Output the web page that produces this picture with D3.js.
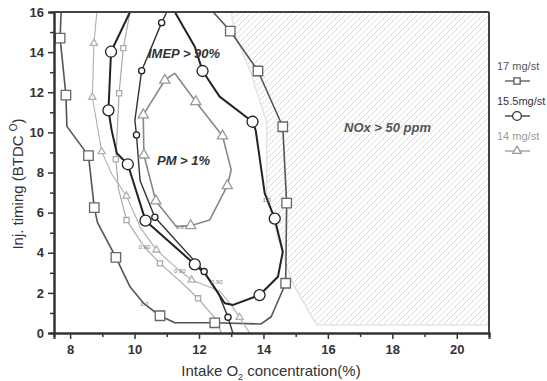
<!DOCTYPE html>
<html>
<head>
<meta charset="utf-8">
<script src="https://cdn.jsdelivr.net/npm/d3@7"></script>
<style>
  body { margin: 0; background: #fff; }
  svg { display: block; font-family: 'Liberation Sans', Arial, sans-serif; }
</style>
</head>
<body>
<svg id="chart" width="547" height="381"></svg>
<script>
// axis ticks
const xTicks = [8, 10, 12, 14, 16, 18, 20];
const yTicks = [0, 2, 4, 6, 8, 10, 12, 14, 16];

// contour lines: [O2 %, timing, marker flag]
const sq17Outer = [[7.72,16],[7.69,14.7,1],[7.87,11.86,1],[7.9,10.3],[8.57,8.84,1],[8.75,6.25,1],[8.85,5.5],
  [9.42,3.77,1],[9.86,2.3],[10.3,1.45],[10.79,0.86,1],[11.25,0.51],[12.49,0.51,1],[13.93,0.45],[14.24,0.81],
  [14.69,2.48,1],[14.72,6.47,1],[14.6,10.28,1],[13.83,13.06,1],[12.97,15.05,1],[12.44,16]];
const sq17Inner = [[9.86,16],[9.65,14.2,1],[9.52,11.95,1],[9.42,8.66,1],[9.5,7.2],[9.75,5.63,1],[10.3,4.3],
  [10.79,3.47,1],[11.4,2.6],[11.97,1.73,1],[12.49,0.75],[12.7,0]];
const tri14Line = [[8.83,16],[8.74,14.44,1],[8.69,11.75,1],[8.98,9.04,1],[9.3,7.9],[9.75,6.83,1],[10.2,5.2],
  [10.68,4.14,1],[11.35,3.17],[11.77,2.64,1],[12.64,2.09],[13.0,1.4],[13.26,0.78,1],[13.57,0]];
const tri14PM = [[11.25,12.95],[11.9,11.53,1],[12.73,9.82,1],[13.0,8.13],[12.88,7.34,1],[12.33,5.63],
  [11.74,5.35,1],[11.3,5.3],[10.66,6.58,1],[10.29,8.87,1],[10.27,10.87,1],[10.94,12.6,1],[11.25,12.95]];
const cir155Imep = [[9.86,16],[9.27,14.02,1],[9.19,11.1,1],[9.29,10.1],[9.45,8.96],[9.79,8.41,1],[10.34,5.6,1],
  [11.87,3.42,1],[12.18,2.98],[12.8,1.48],[13.06,1.4],[13.88,1.89,1],[14.45,2.8],[14.6,4.05],[14.35,5.7,1],
  [14.04,6.96],[13.76,10.1],[13.66,10.53,1],[12.64,11.78],[12.11,13.06,1],[11.87,14.27],[11.25,16]];
const cir155Inner = [[11.0,16],[10.84,15.47,1],[10.22,13.07,1],[10.01,10.6],[10.06,9.87,1],[10.17,7.6],
  [10.63,5.77,1],[12.16,3.06,1],[12.6,2.0],[12.9,0.78,1],[13.05,0]];

// NOx > 50 ppm region boundary
const noxRegion = [[13.0,16],[13.1,15],[13.6,13],[14.1,10.5],[14.1,7],[14.4,5],[14.9,2.5],[15.65,0.4],[21,0.4],[21,16]];

// contour value labels
const contourLabels = [["1.0",10.3,1.45],["1.0",14.1,6.63],["0.90",10.3,4.3],["0.90",11.4,3.1],["0.90",12.55,2.55],["1.0",11.4,5.3]];

const legendItems = [["17 mg/st","square"],["15.5mg/st","circle"],["14 mg/st","triangle"]];

const W = 547, H = 381;
const m = { left: 54, right: 58, top: 12, bottom: 48 };
const svg = d3.select('#chart');

const x = d3.scaleLinear().domain([7.5, 21]).range([m.left, W - m.right]);
const y = d3.scaleLinear().domain([0, 16]).range([H - m.bottom, m.top]);

// hatch pattern
const defs = svg.append('defs');
const pat = defs.append('pattern')
  .attr('id', 'hatch')
  .attr('patternUnits', 'userSpaceOnUse')
  .attr('width', 6).attr('height', 6);
pat.append('path')
  .attr('d', 'M-1,1 l2,-2 M0,6 l6,-6 M5,7 l2,-2')
  .attr('stroke', '#d6d6d6').attr('stroke-width', 0.9);

const line = d3.line().x(d => x(d[0])).y(d => y(d[1]));

svg.append('path')
  .datum(noxRegion)
  .attr('d', d => line(d) + 'Z')
  .attr('fill', 'url(#hatch)')
  .attr('stroke', '#e3e3e3')
  .attr('stroke-width', 1.5);

svg.append('text')
  .attr('x', 344).attr('y', 132)
  .attr('font-size', 13).attr('font-style', 'italic').attr('font-weight', 'bold')
  .attr('fill', '#555')
  .text('NOx > 50 ppm');

// series drawing
const series = [
  { pts: sq17Outer, stroke: '#555', sw: 1.6, sym: d3.symbolSquare, size: 90, mstroke: '#666' },
  { pts: sq17Inner, stroke: '#aaa', sw: 1.2, sym: d3.symbolSquare, size: 26, mstroke: '#aaa' },
  { pts: tri14Line, stroke: '#b0b0b0', sw: 1.1, sym: d3.symbolTriangle, size: 22, mstroke: '#b0b0b0' },
  { pts: tri14PM, stroke: '#888', sw: 1.6, sym: d3.symbolTriangle, size: 45, mstroke: '#999' },
  { pts: cir155Inner, stroke: '#333', sw: 1.4, sym: d3.symbolCircle, size: 30, mstroke: '#222' },
  { pts: cir155Imep, stroke: '#222', sw: 2, sym: d3.symbolCircle, size: 95, mstroke: '#222' }
];

series.forEach(s => {
  svg.append('path')
    .datum(s.pts)
    .attr('d', line)
    .attr('fill', 'none')
    .attr('stroke', s.stroke)
    .attr('stroke-width', s.sw)
    .attr('stroke-linejoin', 'round');
});

// contour labels
svg.selectAll('.clab')
  .data(contourLabels)
  .enter()
  .append('text')
  .attr('class', 'clab')
  .attr('x', d => x(d[1])).attr('y', d => y(d[2]))
  .attr('text-anchor', 'middle').attr('dy', 2)
  .attr('font-size', 6).attr('fill', '#777')
  .text(d => d[0]);

series.forEach(s => {
  svg.append('g')
    .selectAll('path')
    .data(s.pts.filter(p => p[2]))
    .enter()
    .append('path')
    .attr('transform', d => `translate(${x(d[0])},${y(d[1])})`)
    .attr('d', d3.symbol().type(s.sym).size(s.size))
    .attr('fill', '#fff')
    .attr('stroke', s.mstroke)
    .attr('stroke-width', 1.3);
});

// region labels
svg.append('text')
  .attr('x', 148).attr('y', 58)
  .attr('font-size', 13).attr('font-style', 'italic').attr('font-weight', 'bold')
  .attr('fill', '#333')
  .text('IMEP > 90%');
svg.append('text')
  .attr('x', 157).attr('y', 165)
  .attr('font-size', 13).attr('font-style', 'italic').attr('font-weight', 'bold')
  .attr('fill', '#333')
  .text('PM > 1%');

// axes
const xAxis = svg.append('g')
  .attr('transform', `translate(0,${H - m.bottom})`)
  .call(d3.axisBottom(x).tickValues(xTicks).tickSize(6).tickPadding(6).tickFormat(d3.format('d')));
const xMinor = svg.append('g')
  .attr('transform', `translate(0,${H - m.bottom})`)
  .call(d3.axisBottom(x).tickValues(xTicks.map(v => v + 1).filter(v => v < 21)).tickSize(4).tickFormat(''));
const yAxis = svg.append('g')
  .attr('transform', `translate(${m.left},0)`)
  .call(d3.axisLeft(y).tickValues(yTicks).tickSize(6).tickPadding(4).tickFormat(d3.format('d')));
const yMinor = svg.append('g')
  .attr('transform', `translate(${m.left},0)`)
  .call(d3.axisLeft(y).tickValues(yTicks.map(v => v + 1).filter(v => v < 16)).tickSize(4).tickFormat(''));

[xAxis, xMinor, yAxis, yMinor].forEach(g => {
  g.select('.domain').attr('stroke', '#333').attr('stroke-width', 2);
  g.selectAll('.tick line').attr('stroke', '#333').attr('stroke-width', 1.5);
  g.selectAll('.tick text')
    .attr('font-family', "'Liberation Sans', Arial, sans-serif")
    .attr('font-size', 13).attr('font-weight', 'bold').attr('fill', '#333');
});

// frame top / right
svg.append('line')
  .attr('x1', m.left).attr('x2', W - m.right)
  .attr('y1', m.top).attr('y2', m.top)
  .attr('stroke', '#444').attr('stroke-width', 2);
svg.append('line')
  .attr('x1', W - m.right).attr('x2', W - m.right)
  .attr('y1', m.top).attr('y2', H - m.bottom)
  .attr('stroke', '#444').attr('stroke-width', 2);

// axis titles
const xt = svg.append('text')
  .attr('x', 271).attr('y', 376)
  .attr('text-anchor', 'middle')
  .attr('font-size', 15).attr('fill', '#333');
xt.append('tspan').text('Intake O');
xt.append('tspan').attr('font-size', 9).attr('dy', 4).text('2');
xt.append('tspan').attr('dy', -4).text(' concentration(%)');

const yt = svg.append('text')
  .attr('transform', 'translate(23,184) rotate(-90)')
  .attr('text-anchor', 'middle')
  .attr('font-size', 15).attr('fill', '#333');
yt.append('tspan').text('Inj. timing (BTDC ');
yt.append('tspan').attr('font-size', 10).attr('dy', -6).text('O');
yt.append('tspan').attr('dy', 6).text(')');

// legend
const legend = svg.append('g').attr('transform', 'translate(497,0)');
const legColors = ['#555', '#333', '#999'];
const legSyms = { square: [d3.symbolSquare, 40], circle: [d3.symbolCircle, 60], triangle: [d3.symbolTriangle, 30] };
legendItems.forEach((it, i) => {
  const g = legend.append('g').attr('transform', `translate(0,${70 + i * 35})`);
  g.append('text').attr('x', 0).attr('y', 0)
    .attr('font-size', 11).attr('fill', legColors[i]).text(it[0]);
  g.append('line').attr('x1', 8).attr('x2', 33).attr('y1', 11).attr('y2', 11)
    .attr('stroke', legColors[i]).attr('stroke-width', 1.3);
  g.append('path')
    .attr('transform', 'translate(20,11)')
    .attr('d', d3.symbol().type(legSyms[it[1]][0]).size(legSyms[it[1]][1]))
    .attr('fill', '#fff').attr('stroke', legColors[i]).attr('stroke-width', 1.3);
});
</script>
</body>
</html>
